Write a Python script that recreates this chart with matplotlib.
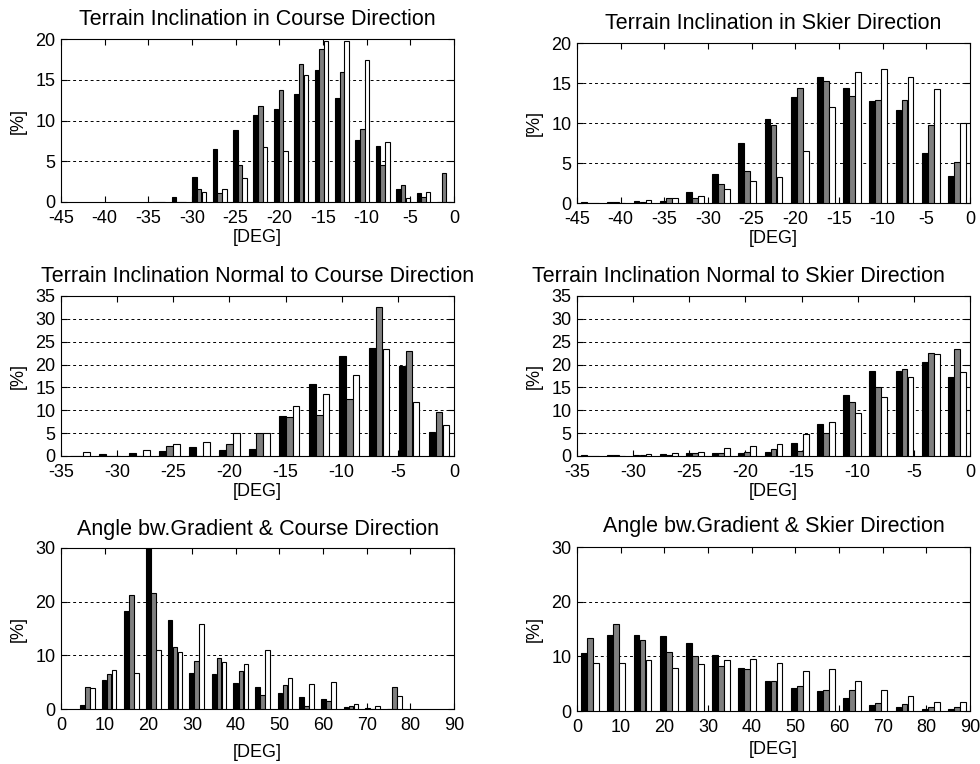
import numpy as np
import matplotlib
matplotlib.use("Agg")
import matplotlib.pyplot as plt

plt.rcParams["font.family"] = ["Liberation Sans", "DejaVu Sans"]
plt.rcParams["axes.unicode_minus"] = False

# bin centres [deg] and shares [%] per group (black / gray / white)
course_incl_deg = [-33.83, -31.5, -29.17, -26.83, -24.5, -22.17, -19.83, -17.5,
                   -15.17, -12.83, -10.5, -8.17, -5.83, -3.5, -1.17]
course_incl_black = [0, 0.6, 3.06, 6.5, 8.8, 10.7, 11.35, 13.2, 16.2, 12.8, 7.55, 6.85, 1.6, 1.1, 0]
course_incl_gray = [0, 0, 1.6, 1.1, 4.5, 11.8, 13.8, 16.9, 18.8, 15.9, 8.9, 4.5, 2.05, 0.6, 3.5]
course_incl_white = [0, 0, 1.2, 1.55, 3.0, 6.7, 6.3, 15.6, 19.7, 19.7, 17.4, 7.4, 0.45, 1.2, 0]

skier_incl_deg = [-43.5, -40.5, -37.5, -34.5, -31.5, -28.5, -25.5, -22.5,
                  -19.5, -16.5, -13.5, -10.5, -7.5, -4.5, -1.5]
skier_incl_black = [0.1, 0.1, 0.2, 0.2, 1.33, 3.6, 7.5, 10.5, 13.3, 15.7, 14.4, 12.7, 11.6, 6.3, 3.37]
skier_incl_gray = [0.05, 0.1, 0.1, 0.6, 0.58, 2.35, 3.95, 9.7, 14.4, 15.3, 13.4, 12.9, 12.85, 9.8, 5.07]
skier_incl_white = [0, 0.05, 0.35, 0.6, 0.83, 1.7, 2.7, 3.2, 6.55, 12.05, 16.4, 16.7, 15.7, 14.2, 9.98]

course_norm_deg = [-38.67, -36.0, -33.33, -30.67, -28.0, -25.33, -22.67, -20.0,
                   -17.33, -14.67, -12.0, -9.33, -6.67, -4.0, -1.33]
course_norm_black = [0, 0, 0, 0.45, 0.7, 1.15, 2.0, 1.3, 1.6, 8.8, 15.75, 21.9, 23.6, 19.7, 5.3]
course_norm_gray = [0, 0, 0, 0, 0, 2.25, 0, 2.7, 5.0, 8.57, 8.9, 12.5, 32.5, 22.9, 9.66]
course_norm_white = [0, 0, 0.9, 0, 1.4, 2.6, 3.05, 5.0, 5.0, 11.0, 13.5, 17.65, 23.3, 11.8, 6.75]

skier_norm_deg = [-33.83, -31.5, -29.17, -26.83, -24.5, -22.17, -19.83, -17.5,
                  -15.17, -12.83, -10.5, -8.17, -5.83, -3.5, -1.17]
skier_norm_black = [0.15, 0.2, 0.2, 0.4, 0.65, 0.65, 0.65, 0.87, 2.83, 6.97, 13.36, 18.6, 18.7, 20.5, 17.3]
skier_norm_gray = [0.05, 0.2, 0.2, 0.2, 0.6, 0.65, 0.87, 1.5, 1.1, 5.0, 11.76, 15.0, 19.0, 22.45, 23.3]
skier_norm_white = [0.1, 0.1, 0.4, 0.6, 0.87, 1.75, 2.2, 2.6, 4.87, 7.4, 9.3, 12.85, 17.2, 22.3, 18.3]

course_grad_deg = [6.0, 11.0, 16.1, 21.1, 26.1, 31.1, 36.2, 41.2,
                   46.2, 51.3, 56.3, 61.3, 66.4, 71.4, 76.4]
course_grad_black = [0.75, 5.45, 18.2, 30.0, 16.5, 6.75, 6.5, 4.9, 4.15, 3.0, 2.3, 1.9, 0.37, 0.2, 0]
course_grad_gray = [4.1, 6.5, 21.3, 21.65, 11.5, 8.97, 9.46, 7.05, 2.65, 4.45, 0.55, 1.5, 0.55, 0, 4.1]
course_grad_white = [3.95, 7.2, 6.8, 10.95, 10.6, 15.8, 8.7, 8.35, 10.95, 5.8, 4.65, 5.0, 0.93, 0.55, 2.4]

skier_grad_deg = [3, 9, 15, 21, 27, 33, 39, 45, 51, 57, 63, 69, 75, 81, 87]
skier_grad_black = [10.6, 13.9, 13.9, 13.7, 12.4, 10.2, 7.85, 5.48, 4.2, 3.65, 2.37, 1.1, 0.73, 0.37, 0.37]
skier_grad_gray = [13.4, 15.9, 12.96, 10.77, 9.98, 8.2, 7.6, 5.48, 4.56, 3.83, 3.83, 1.46, 1.28, 0.67, 0.67]
skier_grad_white = [8.76, 8.76, 9.3, 7.85, 8.58, 9.3, 9.5, 8.76, 7.3, 7.67, 5.48, 3.83, 2.74, 1.64, 1.64]

W, H = 980, 764
FACES = ["black", "#7f7f7f", "white"]


def px_axes(fig, left, top, right, bottom):
    return fig.add_axes([left / W, 1 - bottom / H, (right - left) / W, (bottom - top) / H])


def grouped(ax, x, series, title, xlim, xticks, ylim, yticks, title_pad=10, xlab_pad=1, title_x=0.5):
    x = np.asarray(x, float)
    step = np.median(np.diff(x))
    for i, (vals, fc) in enumerate(zip(series, FACES)):
        ax.bar(x + (i - 1) * 0.23 * step, vals, width=0.22 * step, color=fc,
               edgecolor="black", linewidth=0.8, zorder=3)
    ax.set_xlim(*xlim)
    ax.set_ylim(*ylim)
    ax.set_xticks(xticks)
    ax.set_yticks(yticks)
    for y in yticks[1:-1]:
        ax.axhline(y, color="black", ls=(0, (3, 3)), lw=0.7, zorder=1)
    ax.tick_params(direction="in", top=True, right=True, length=4, width=0.8, labelsize=13)
    ax.tick_params(axis="x", pad=6)
    ax.tick_params(axis="y", pad=4)
    for s in ax.spines.values():
        s.set_linewidth(0.8)
    ax.set_title(title, fontsize=15.5, pad=title_pad, x=title_x)
    ax.set_ylabel("[%]", fontsize=13, labelpad=6)
    ax.set_xlabel("[DEG]", fontsize=13, labelpad=xlab_pad)


fig = plt.figure(figsize=(W / 100, H / 100), dpi=100)

ax = px_axes(fig, 61, 39, 454, 202)
grouped(ax, course_incl_deg, [course_incl_black, course_incl_gray, course_incl_white],
        "Terrain Inclination in Course Direction", (-45, 0), range(-45, 1, 5), (0, 20), [0, 5, 10, 15, 20])

ax = px_axes(fig, 577, 43, 970, 203)
grouped(ax, skier_incl_deg, [skier_incl_black, skier_incl_gray, skier_incl_white],
        "Terrain Inclination in Skier Direction", (-45, 0), range(-45, 1, 5), (0, 20), [0, 5, 10, 15, 20])

ax = px_axes(fig, 61, 296, 454, 456)
grouped(ax, course_norm_deg, [course_norm_black, course_norm_gray, course_norm_white],
        "Terrain Inclination Normal to Course Direction", (-35, 0), range(-35, 1, 5), (0, 35),
        list(range(0, 36, 5)), title_pad=10)

# long title, nudged left so it stays inside the figure
ax = px_axes(fig, 577, 296, 970, 456)
grouped(ax, skier_norm_deg, [skier_norm_black, skier_norm_gray, skier_norm_white],
        "Terrain Inclination Normal to Skier Direction", (-35, 0), range(-35, 1, 5), (0, 35),
        list(range(0, 36, 5)), title_pad=10, title_x=0.41)

ax = px_axes(fig, 61, 548, 454, 709)
grouped(ax, course_grad_deg, [course_grad_black, course_grad_gray, course_grad_white],
        "Angle bw.Gradient & Course Direction", (0, 90), range(0, 91, 10), (0, 30), [0, 10, 20, 30],
        title_pad=9, xlab_pad=7)

ax = px_axes(fig, 577, 547, 970, 711)
grouped(ax, skier_grad_deg, [skier_grad_black, skier_grad_gray, skier_grad_white],
        "Angle bw.Gradient & Skier Direction", (0, 90), range(0, 91, 10), (0, 30), [0, 10, 20, 30],
        title_pad=11, xlab_pad=3)

fig.savefig("out.png", dpi=100)
